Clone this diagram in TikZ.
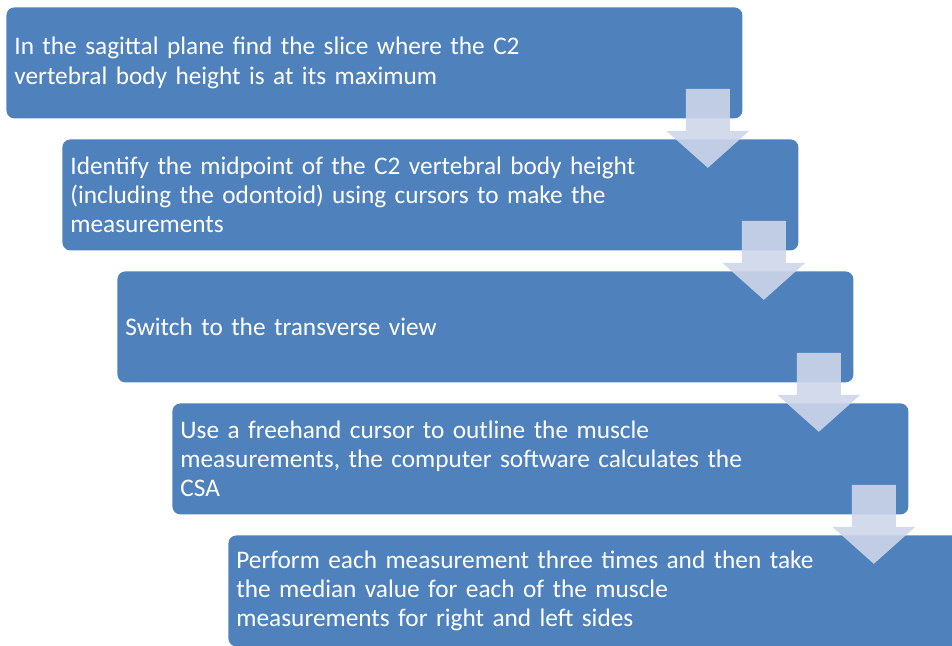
\documentclass[tikz,border=0pt]{standalone}
\usepackage{fontspec}
\setmainfont{Carlito}
\usetikzlibrary{calc}
\definecolor{boxblue}{RGB}{79,129,189}
\definecolor{arrowfill}{RGB}{205,214,234}

\begin{document}
\begin{tikzpicture}[x=0.5pt,y=-0.5pt]
\tikzstyle{stepbox}=[rectangle, rounded corners=4pt, fill=boxblue, text=white, anchor=north west, minimum width=368pt, minimum height=55.5pt, inner xsep=4pt, text width=360pt, align=left, font=\fontsize{12.65}{14.6}\selectfont]
\tikzstyle{flow}=[fill=arrowfill, fill opacity=0.9]

\useasboundingbox (0,0) rectangle (952,645);

\node[stepbox] at (6,7) (slice) {In the sagittal plane find the slice where the C2\\vertebral body height is at its maximum};
\node[stepbox] at (62,139) (midpoint) {Identify the midpoint of the C2 vertebral body height\\(including the odontoid) using cursors to make the\\measurements};
\node[stepbox] at (117,271) (switch) {Switch to the transverse view};
\node[stepbox] at (172,403) (outline) {Use a freehand cursor to outline the muscle\\measurements, the computer software calculates the\\CSA};
\node[stepbox] at (228,535) (median) {Perform each measurement three times and then take\\the median value for each of the muscle\\measurements for right and left sides};

% block arrows between the steps
\foreach \from in {slice, midpoint, switch, outline}
  \path[flow] ($(\from.south east)+(-57,-30)$) -- ++(44,0) -- ++(0,42) -- ++(19.5,0)
    -- ++(-41.5,37) -- ++(-41.5,-37) -- ++(19.5,0) -- cycle;
\end{tikzpicture}
\end{document}
